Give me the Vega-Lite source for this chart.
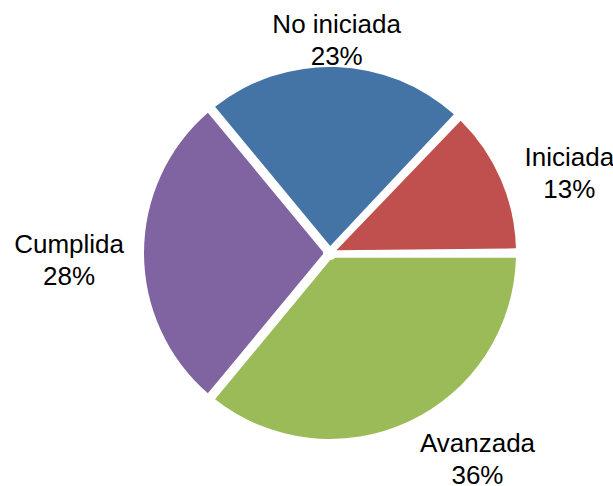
{
  "$schema": "https://vega.github.io/schema/vega-lite/v6.json",
  "autosize": "none",
  "width": 600,
  "height": 506,
  "padding": {"left": 30, "top": 0, "right": 0, "bottom": 0},
  "background": "white",
  "config": {"view": {"stroke": null}},
  "data": {
    "values": [
      {"estado": "No iniciada", "valor": 0.23, "orden": 1},
      {"estado": "Iniciada", "valor": 0.13, "orden": 2},
      {"estado": "Avanzada", "valor": 0.36, "orden": 3},
      {"estado": "Cumplida", "valor": 0.28, "orden": 4}
    ]
  },
  "encoding": {
    "theta": {"field": "valor", "type": "quantitative", "stack": true, "scale": {"range": [-0.691, 5.592]}},
    "order": {"field": "orden", "type": "quantitative"}
  },
  "layer": [
    {
      "mark": {"type": "arc", "outerRadius": 186, "innerRadius": 7, "padAngle": 0.05},
      "encoding": {
        "color": {
          "field": "estado",
          "type": "nominal",
          "scale": {"domain": ["No iniciada", "Iniciada", "Avanzada", "Cumplida"], "range": ["#4473A6", "#C0504D", "#9BBB59", "#8064A2"]},
          "legend": null
        }
      }
    },
    {
      "mark": {
        "type": "text", "radius": 212, "font": "Liberation Sans", "fontSize": 26, "color": "black", "align": "center",
        "dy": {"expr": "-16 + 8 - 8*cos(scale('theta', 0.5*datum.valor_start + 0.5*datum.valor_end))"},
        "dx": {"expr": "(sin(scale('theta', 0.5*datum.valor_start + 0.5*datum.valor_end)) > 0.4 ? 1 : (sin(scale('theta', 0.5*datum.valor_start + 0.5*datum.valor_end)) < -0.4 ? -1 : 0)) * (14.3*length(replace(datum.estado, regexp('[iIl]','g'), '')) + 6*(length(datum.estado) - length(replace(datum.estado, regexp('[iIl]','g'), ''))))/2"}
      },
      "encoding": {"text": {"field": "estado", "type": "nominal"}}
    },
    {
      "mark": {
        "type": "text", "radius": 212, "font": "Liberation Sans", "fontSize": 26, "color": "black", "align": "center",
        "dy": {"expr": "16 + 8 - 8*cos(scale('theta', 0.5*datum.valor_start + 0.5*datum.valor_end))"},
        "dx": {"expr": "(sin(scale('theta', 0.5*datum.valor_start + 0.5*datum.valor_end)) > 0.4 ? 1 : (sin(scale('theta', 0.5*datum.valor_start + 0.5*datum.valor_end)) < -0.4 ? -1 : 0)) * (14.3*length(replace(datum.estado, regexp('[iIl]','g'), '')) + 6*(length(datum.estado) - length(replace(datum.estado, regexp('[iIl]','g'), ''))))/2"}
      },
      "encoding": {"text": {"field": "valor", "type": "quantitative", "format": ".0%"}}
    }
  ]
}
